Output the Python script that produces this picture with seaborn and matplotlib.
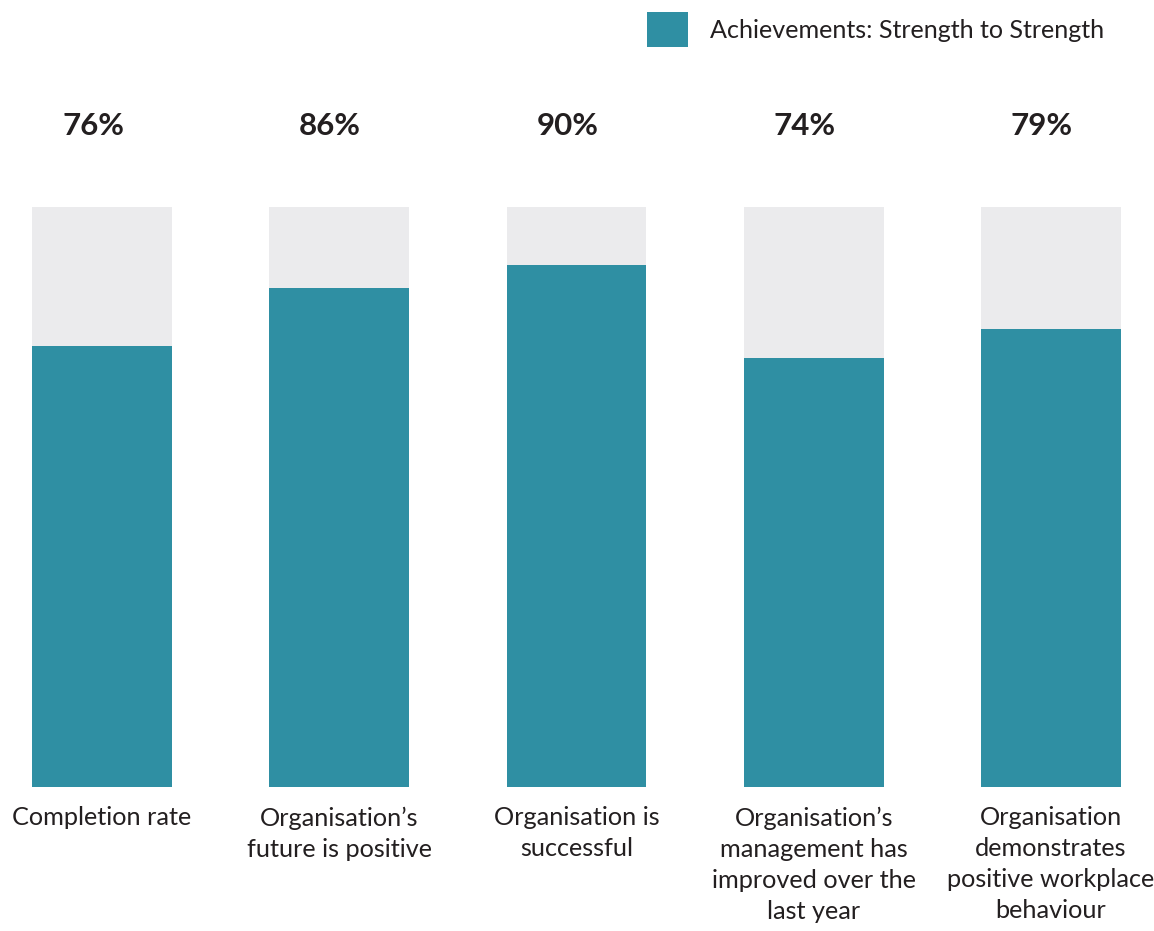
import matplotlib
matplotlib.use("Agg")
import matplotlib.pyplot as plt
import matplotlib.transforms as mtransforms
from matplotlib.patches import Patch
import seaborn as sns
import pandas as pd

categories = [
    "Completion rate",
    "Organisation\u2019s\nfuture is positive",
    "Organisation is\nsuccessful",
    "Organisation\u2019s\nmanagement has\nimproved over the\nlast year",
    "Organisation\ndemonstrates\npositive workplace\nbehaviour",
]
values = [76, 86, 90, 74, 79]
full_scale = [100, 100, 100, 100, 100]
series_name = "Achievements: Strength to Strength"

TEAL = "#2f8fa3"
GREY = "#ebebed"
INK = "#231f20"

sns.set_theme(style="white")
plt.rcParams["font.family"] = ["Lato", "DejaVu Sans"]

df = pd.DataFrame({"category": categories, "value": values, "full": full_scale})

W, H = 1154, 931
fig = plt.figure(figsize=(W / 100, H / 100), dpi=100)
ax = fig.add_axes([0, 144 / H, 1, 580 / H])

# grey track behind each bar, then the achieved share on top
sns.barplot(data=df, x="category", y="full", color=GREY, width=0.59,
            saturation=1, linewidth=0, ax=ax, zorder=1)
sns.barplot(data=df, x="category", y="value", color=TEAL, width=0.59,
            saturation=1, linewidth=0, ax=ax, zorder=2)

step = 237.25
ax.set_xlim(-102 / step, 4 + (W - 1051) / step)
ax.set_ylim(0, 100)
ax.set_xlabel("")
ax.set_ylabel("")
ax.set_yticks([])
for s in ax.spines.values():
    s.set_visible(False)

ax.tick_params(axis="x", length=0, pad=14)
ax.set_xticks(range(len(categories)))
ax.set_xticklabels(categories, fontsize=18.2, color=INK, linespacing=1.42,
                   multialignment="center")

# percentage headers sit in a row above the bars, nudged slightly left
shift = mtransforms.ScaledTranslation(-9 / 100, 0, fig.dpi_scale_trans)
for i, v in enumerate(values):
    ax.text(i, 114.0, f"{v}%", ha="center", va="center", fontsize=22.5,
            fontweight="bold", color=INK, clip_on=False,
            transform=ax.transData + shift)

handle = Patch(facecolor=TEAL, edgecolor="none", label=series_name)
fig.legend(handles=[handle], loc="upper left",
           bbox_to_anchor=(647 / W, 1 - 12 / H), frameon=False,
           fontsize=18.1, handlelength=1.65, handleheight=1.75,
           handletextpad=0.85, borderpad=0, borderaxespad=0,
           labelcolor=INK)

fig.savefig("out.png", dpi=100)
